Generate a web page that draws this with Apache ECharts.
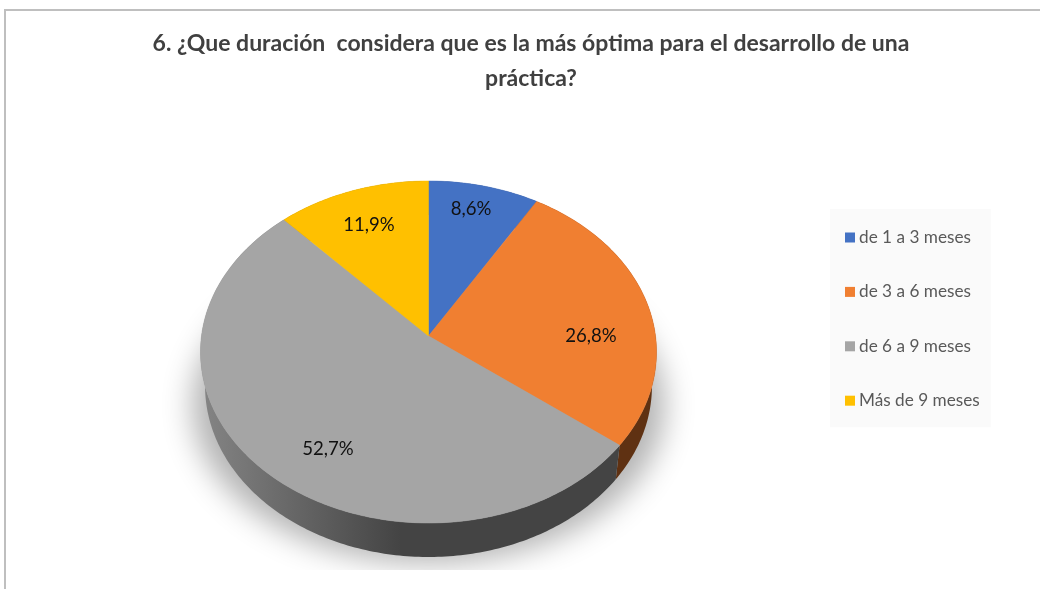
<!doctype html>
<html lang="es">
<head>
    <meta charset="UTF-8">
    <title>Duración de la práctica</title>
    <script src="https://cdn.jsdelivr.net/npm/echarts@6/dist/echarts.min.js"></script>
    <style>
        html, body { margin: 0; padding: 0; background: #fff; }
    </style>
</head>
<body>
<div id="chart" style="width: 1040px;height: 589px;"></div>
<script type="text/javascript">
    const titleText = "6. ¿Que duración  considera que es la más óptima para el desarrollo de una\npráctica?";
    const categories = ["de 1 a 3 meses", "de 3 a 6 meses", "de 6 a 9 meses", "Más de 9 meses"];
    const values = [8.6, 26.8, 52.7, 11.9];

    const colors = ["#4472C4", "#F07F31", "#A5A5A5", "#FFC000"];
    const wallColors = ["#2a4476", "#5f3112", null, "#997300"];
    const labelPos = [[471, 209], [591, 336], [328, 449], [369, 225]];

    // tilted disc: centre, radii, apex shift from the perspective of the original 3D pie
    const cx = 428.5, cy = 352, rx = 227, ry = 171, lift = 16, persp = 0.0936;
    const depth = 34, wallScale = 0.98;

    function project(pct) {
        let a = pct / 100 * Math.PI * 2;
        let u = Math.sin(a), v = Math.cos(a);
        let d = 1 + persp * v;
        return [rx * u / d, (ry * v + lift) / d];
    }

    function rim(start, end) {
        let pts = [];
        let n = Math.max(2, Math.ceil((end - start) * 4));
        for (let i = 0; i <= n; i++) {
            pts.push(project(start + (end - start) * i / n));
        }
        return pts;
    }

    function topSlice(i) {
        return function (params, api) {
            let start = api.value(0), end = api.value(1);
            let pts = rim(start, end).map(p => [cx + p[0], cy - p[1]]);
            pts.unshift([cx, cy - lift]);
            return {
                type: 'polygon',
                shape: {points: pts},
                style: {fill: colors[i], stroke: colors[i], lineWidth: 0.5}
            };
        };
    }

    function wallSlice(i) {
        return function (params, api) {
            let start = api.value(0), end = api.value(1);
            let pts = rim(start, end);
            let upper = pts.map(p => [cx + p[0], cy - p[1]]);
            let lower = pts.map(p => [cx + p[0] * wallScale, cy - p[1] + depth]).reverse();
            let fill = wallColors[i] || new echarts.graphic.LinearGradient(200, 0, 400, 0, [
                {offset: 0, color: '#858585'},
                {offset: 1, color: '#444444'}
            ], true);
            return {
                type: 'polygon',
                shape: {points: upper.concat(lower)},
                style: {fill: fill, stroke: null}
            };
        };
    }

    let starts = [];
    let total = 0;
    for (let i = 0; i < values.length; i++) {
        starts.push(total);
        total += values[i];
    }

    let wallSeries = [];
    let topSeries = [];
    for (let i = 0; i < categories.length; i++) {
        wallSeries.push({
            name: 'lado ' + categories[i],
            type: 'custom',
            coordinateSystem: 'none',
            renderItem: wallSlice(i),
            z: 3,
            silent: true,
            data: [[starts[i], starts[i] + values[i]]]
        });
        topSeries.push({
            name: categories[i],
            type: 'custom',
            coordinateSystem: 'none',
            renderItem: topSlice(i),
            z: 4,
            silent: true,
            itemStyle: {color: colors[i]},
            data: [[starts[i], starts[i] + values[i]]]
        });
    }

    let sliceLabels = categories.map((c, i) => ({
        type: 'text',
        x: labelPos[i][0],
        y: labelPos[i][1],
        z: 10,
        style: {
            text: values[i].toFixed(1).replace('.', ',') + '%',
            font: '18.6px Lato',
            fill: '#111',
            align: 'center',
            verticalAlign: 'middle'
        }
    }));

    let chart = echarts.init(document.getElementById("chart"));
    chart.setOption({
        animation: false,
        backgroundColor: '#fff',
        title: {
            text: titleText,
            left: 526,
            top: 21,
            textAlign: 'center',
            textStyle: {
                fontFamily: 'Lato',
                fontSize: 23,
                fontWeight: 'bold',
                color: '#404040',
                lineHeight: 35
            }
        },
        legend: {
            orient: 'vertical',
            left: 830,
            top: 209,
            padding: [20, 11, 18, 15],
            itemGap: 37.4,
            itemWidth: 10,
            itemHeight: 10,
            icon: 'rect',
            backgroundColor: '#fafafa',
            data: categories,
            selectedMode: false,
            textStyle: {fontFamily: 'Lato', fontSize: 17.2, color: '#595959', padding: [0, 0, 0, -1]}
        },
        graphic: [
            {
                type: 'rect',
                z: -2,
                shape: {x: 5, y: 10, width: 1100, height: 700},
                style: {fill: '#fff', stroke: '#bfbfbf', lineWidth: 2}
            },
            {
                // ellipse sits off the canvas, only its blurred shadow lands under the pie
                type: 'ellipse',
                z: 1,
                shape: {cx: cx - 2000, cy: 405, rx: 236, ry: 158},
                style: {fill: '#000', shadowBlur: 30, shadowColor: 'rgba(0,0,0,0.3)', shadowOffsetX: 2000}
            },
            {
                type: 'rect',
                z: 2,
                shape: {x: 100, y: 570, width: 700, height: 19},
                style: {fill: '#fff'}
            }
        ].concat(sliceLabels),
        series: wallSeries.concat(topSeries)
    });
</script>
</body>
</html>
